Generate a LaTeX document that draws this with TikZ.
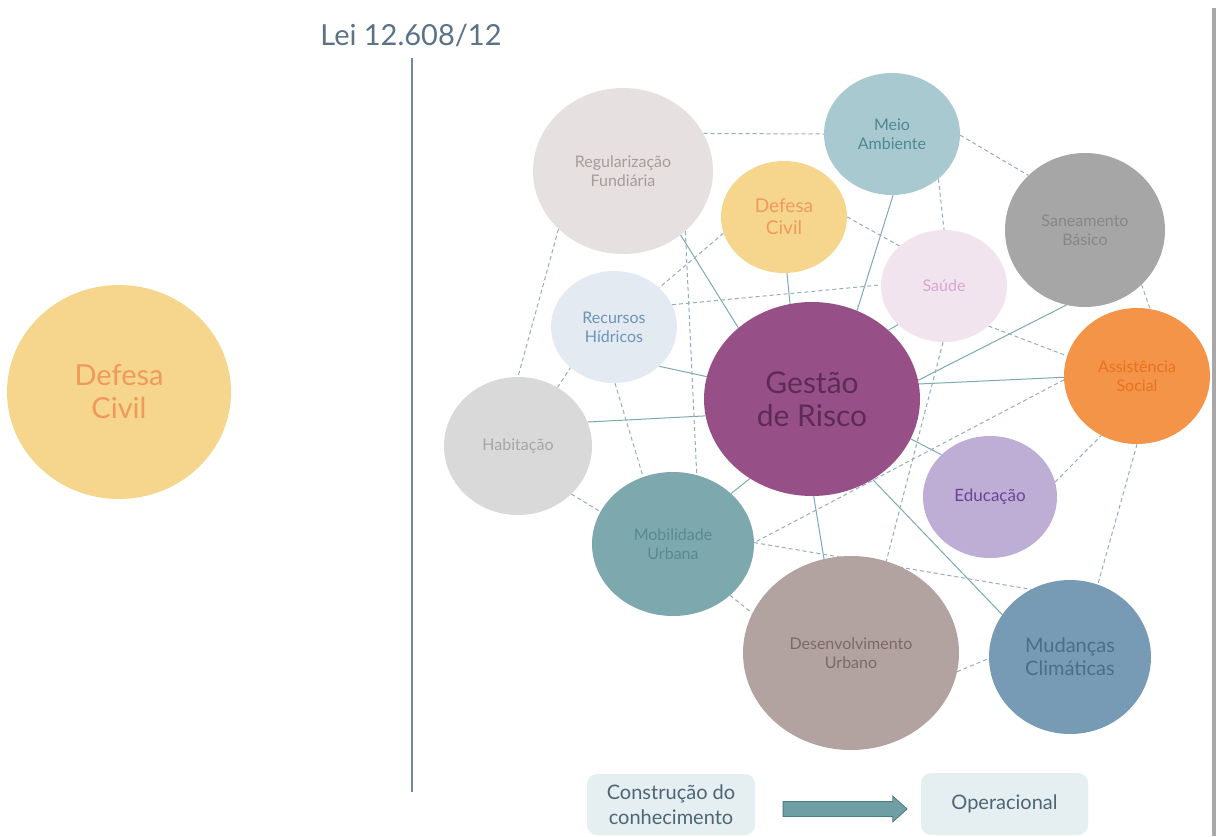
\documentclass[tikz,border=0pt]{standalone}
\usepackage{fontspec}
\setmainfont{Lato}
\usetikzlibrary{shapes.geometric,shapes.arrows,backgrounds}
\definecolor{cDC}{HTML}{F5D68C}\definecolor{cDCt}{HTML}{EF9A5B}
\definecolor{cREG}{HTML}{E7E0E0}\definecolor{cREGt}{HTML}{A69C9C}
\definecolor{cMA}{HTML}{A9C9D0}\definecolor{cMAt}{HTML}{4E8893}
\definecolor{cSAN}{HTML}{A6A6A6}\definecolor{cSANt}{HTML}{878787}
\definecolor{cSAU}{HTML}{F1E4EE}\definecolor{cSAUt}{HTML}{D6A8CF}
\definecolor{cREC}{HTML}{E4EAF1}\definecolor{cRECt}{HTML}{6C93B8}
\definecolor{cHAB}{HTML}{D9D9D9}\definecolor{cHABt}{HTML}{A6A6A6}
\definecolor{cGR}{HTML}{974F87}\definecolor{cGRt}{HTML}{5D2C55}
\definecolor{cAS}{HTML}{F39449}\definecolor{cASt}{HTML}{E8731E}
\definecolor{cEDU}{HTML}{BEAED6}\definecolor{cEDUt}{HTML}{6A4396}
\definecolor{cMOB}{HTML}{7DA8AE}\definecolor{cMOBt}{HTML}{5A8990}
\definecolor{cDES}{HTML}{B2A3A1}\definecolor{cDESt}{HTML}{7A6967}
\definecolor{cMUD}{HTML}{779AB5}\definecolor{cMUDt}{HTML}{4C6E8B}
\definecolor{cBox}{HTML}{E5EEF0}\definecolor{cBoxt}{HTML}{4D6676}
\definecolor{cArr}{HTML}{6F9EA4}\definecolor{cArrd}{HTML}{4C7C84}
\definecolor{cSolid}{HTML}{7DA9AF}\definecolor{cDash}{HTML}{96AEB7}
\definecolor{cLei}{HTML}{5B7287}\definecolor{cVline}{HTML}{7089A0}
\definecolor{cShadow}{HTML}{A8A8A8}
\newcommand\myfs[2]{\fontsize{#1}{#2}\selectfont}
\tikzset{
  bub/.style={ellipse, inner sep=0pt, align=center},
  smalltxt/.style={font=\myfs{16}{19}},
  solidc/.style={draw=cSolid, line width=1pt},
  dashc/.style={draw=cDash, line width=1pt, dash pattern=on 4pt off 3pt},
  boxn/.style={rectangle, rounded corners=10pt, fill=cBox, text=cBoxt, align=center, inner sep=0pt, font=\myfs{20}{25}},
}
\begin{document}
\begin{tikzpicture}[x=1pt,y=-1pt]
\useasboundingbox (0,0) rectangle (1216,836);
% title and divider
\node[anchor=base, text=cLei, font=\myfs{29}{33}, inner sep=0pt] (lei) at (411,45) {Lei 12.608/12};
\coordinate (vtop) at (412,58);
\coordinate (vbot) at (412,792);
\draw[cVline, line width=1.5pt] (vtop) -- (vbot);
% left bubble
\node[bub, minimum width=224pt, minimum height=214pt, fill=cDC, text=cDCt, font=\myfs{29}{33}] (dcl) at (119,392) {Defesa\\Civil};
% network bubbles
\node[bub, smalltxt, minimum width=180pt, minimum height=166pt, fill=cREG, text=cREGt] (reg) at (623,171) {Regularização\\Fundiária};
\node[bub, font=\myfs{19}{22}, minimum width=126pt, minimum height=112pt, fill=cDC, text=cDCt] (dc) at (784,217) {Defesa\\Civil};
\node[bub, smalltxt, minimum width=136pt, minimum height=122pt, fill=cMA, text=cMAt] (ma) at (892,134) {Meio\\Ambiente};
\node[bub, smalltxt, minimum width=160pt, minimum height=154pt, fill=cSAN, text=cSANt] (san) at (1085,230) {Saneamento\\Básico};
\node[bub, smalltxt, minimum width=126pt, minimum height=112pt, fill=cSAU, text=cSAUt] (sau) at (944,286) {Saúde};
\node[bub, smalltxt, minimum width=126pt, minimum height=112pt, fill=cREC, text=cRECt] (rec) at (614,327) {Recursos\\Hídricos};
\node[bub, smalltxt, minimum width=148pt, minimum height=138pt, fill=cHAB, text=cHABt] (hab) at (518,446) {Habitação};
\node[bub, font=\myfs{30}{33}, minimum width=216pt, minimum height=194pt, fill=cGR, text=cGRt] (gr) at (812,399) {Gestão\\de Risco};
\node[bub, smalltxt, minimum width=146pt, minimum height=136pt, fill=cAS, text=cASt] (as) at (1137,376) {Assistência\\Social};
\node[bub, font=\myfs{17}{20}, minimum width=134pt, minimum height=122pt, fill=cEDU, text=cEDUt] (edu) at (990,497) {Educação};
\node[bub, smalltxt, minimum width=162pt, minimum height=144pt, fill=cMOB, text=cMOBt] (mob) at (673,544) {Mobilidade\\Urbana};
\node[bub, smalltxt, minimum width=216pt, minimum height=194pt, fill=cDES, text=cDESt] (des) at (851,653) {Desenvolvimento\\Urbano};
\node[bub, font=\myfs{20}{23}, minimum width=162pt, minimum height=154pt, fill=cMUD, text=cMUDt] (mud) at (1070,657) {Mudanças\\Climáticas};
% bottom boxes
\node[boxn, minimum width=168pt, minimum height=61pt] (b1) at (671,804.5) {Construção do\\conhecimento};
\node[boxn, minimum width=167pt, minimum height=62pt] (b2) at (1004.5,804) {Operacional};
\node[single arrow, fill=cArr, draw=cArrd, line width=0.8pt, inner xsep=0pt, inner ysep=7pt,
      minimum height=124pt, single arrow head extend=5.5pt,
      single arrow tip angle=84] (arr) at (841,809) {};
% slide edge shadow
\fill[cShadow] (1212,8) rectangle (1216,836);
\begin{pgfonlayer}{background}
\fill[white] (0,0) rectangle (1216,836);
% solid connectors
\draw[solidc] (reg.-48) -- (gr.136);
\draw[solidc] (dc.-87) -- (gr.103);
\draw[solidc] (ma.-89) -- (gr.63);
\draw[solidc] (san.-104) -- (gr.10);
\draw[solidc] (as.181) -- (gr.8);
\draw[solidc] (gr.-22) -- (edu.139);
\draw[solidc] (gr.-53) -- (mud.148);
\draw[solidc] (gr.-89) -- (des.106);
\draw[solidc] (gr.-128) -- (mob.41);
\draw[solidc] (gr.189) -- (hab.19);
\draw[solidc] (rec.-41) -- (gr.168);
\draw[solidc] (sau.-140) -- (gr.42);
% dashed connectors
\draw[dashc] (reg.25) -- (ma.180);
\draw[dashc] (ma.-1) -- (san.136);
\draw[dashc] (ma.-44) -- (sau.90);
\draw[dashc] (dc.0) -- (sau.138);
\draw[dashc] (san.-44) -- (as.79);
\draw[dashc] (sau.-42) -- (as.164);
\draw[dashc] (sau.-91) -- (des.69);
\draw[dashc] (as.183) -- (mob.1);
\draw[dashc] (mob.1) -- (mud.120);
\draw[dashc] (edu.13) -- (as.-121);
\draw[dashc] (as.-90) -- (mud.69);
\draw[dashc] (des.-10) -- (mud.181);
\draw[dashc] (mob.-42) -- (des.158);
\draw[dashc] (hab.-42) -- (mob.156);
\draw[dashc] (hab.56) -- (rec.-137);
\draw[dashc] (reg.-138) -- (hab.90);
\draw[dashc] (rec.-89) -- (mob.114);
\draw[dashc] (reg.-44) -- (mob.71);
\draw[dashc] (dc.195) -- (rec.41);
\draw[dashc] (rec.21) -- (sau.179);
\end{pgfonlayer}
\end{tikzpicture}
\end{document}
